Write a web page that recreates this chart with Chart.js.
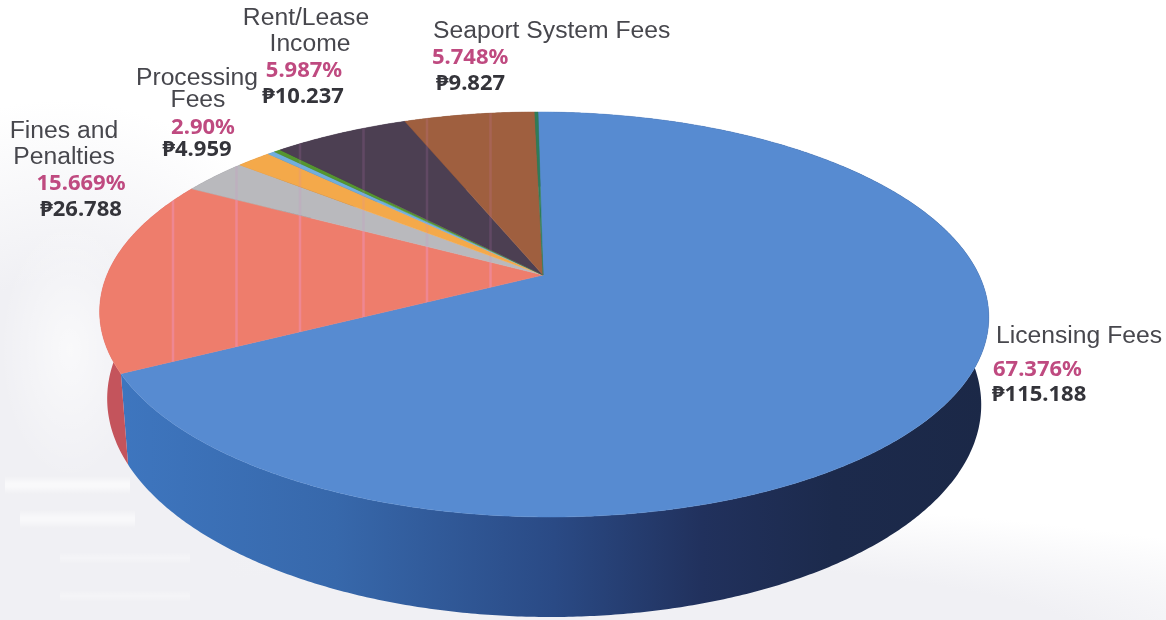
<!DOCTYPE html>
<html>
<head>
<meta charset="utf-8">
<title>Revenue sources</title>
<script src="https://cdn.jsdelivr.net/npm/chart.js@4"></script>
<style>
    html, body { margin: 0; padding: 0; }
    body {
        width: 1166px;
        height: 620px;
        overflow: hidden;
        background:
            linear-gradient(180deg, rgba(255,255,255,0), rgba(255,255,255,.6) 40%, rgba(255,255,255,.6) 60%, rgba(255,255,255,0)) 5px 476px / 125px 18px no-repeat,
            linear-gradient(180deg, rgba(255,255,255,0), rgba(255,255,255,.55) 40%, rgba(255,255,255,.55) 60%, rgba(255,255,255,0)) 20px 510px / 115px 18px no-repeat,
            linear-gradient(180deg, rgba(255,255,255,0), rgba(255,255,255,.3) 50%, rgba(255,255,255,0)) 60px 552px / 130px 12px no-repeat,
            linear-gradient(180deg, rgba(255,255,255,0), rgba(255,255,255,.3) 50%, rgba(255,255,255,0)) 60px 590px / 130px 12px no-repeat,
            radial-gradient(ellipse 70px 130px at 70px 350px, rgba(255,255,255,.6), rgba(255,255,255,0)),
            radial-gradient(ellipse 320px 400px at 60px 500px, #f0f0f4 55%, rgba(240,240,244,0)),
            radial-gradient(ellipse 900px 150px at 560px 650px, #f0f0f4 60%, rgba(240,240,244,0)),
            #fff;
    }
    #pie { display: block; position: absolute; left: 0; top: 0; }
</style>
</head>
<body>
<canvas id="pie" width="1166" height="620"></canvas>
<script>
const categories = ['Licensing Fees', 'Fines and Penalties', 'Processing Fees', 'Other A', 'Other B', 'Other C', 'Rent/Lease Income', 'Seaport System Fees', 'Other D'];
const amounts = [115.188, 26.788, 4.959, 2.65, 0.56, 0.51, 10.237, 9.827, 0.24];
const topColors = ['#578bd1', '#ee7d6c', '#b9b9bd', '#f4a94a', '#70aede', '#55962f', '#4c3f52', '#9f5f3f', '#2f7c58'];
const wallColors = ['#2a4a85', '#c4545c', '#85858a', '#b87a30', '#4f80a5', '#3a6a20', '#352b3a', '#70432c', '#20573e'];
const percentLabels = ['67.376%', '15.669%', '2.90%', '5.987%', '5.748%'];
const amountLabels = ['₱115.188', '₱26.788', '₱4.959', '₱10.237', '₱9.827'];

const hub = { x: 543, y: 275 };

// the disc is tilted away from the viewer, so the hub sits above the middle of the ellipse
function project(angle) {
    const u = Math.cos(angle), v = Math.sin(angle);
    const d = 1 - 0.195 * v;
    return { x: hub.x + (436 * u + 6 * v) / d, y: hub.y + 194.8 * v / d };
}

// bottom rim of the slab, a bit narrower than the top and deeper towards the front
function lower(p) {
    return { x: hub.x + 0.983 * (p.x - hub.x), y: p.y + 91 + 0.063 * (p.y - 374) };
}

function rim(arc) {
    const pts = [];
    const steps = Math.max(2, Math.ceil((arc.endAngle - arc.startAngle) / 0.008));
    for (let i = 0; i <= steps; i++) {
        pts.push(project(arc.startAngle + (arc.endAngle - arc.startAngle) * i / steps));
    }
    return pts;
}

const tiltedPie = {
    id: 'tiltedPie',
    beforeDatasetDraw(chart) {
        const ctx = chart.ctx;
        const arcs = chart.getDatasetMeta(0).data;

        // side walls first, the top face covers whatever sits behind it
        arcs.forEach((arc, i) => {
            const pts = rim(arc);
            ctx.beginPath();
            pts.forEach((p, k) => k ? ctx.lineTo(p.x, p.y) : ctx.moveTo(p.x, p.y));
            pts.slice().reverse().forEach(p => {
                const q = lower(p);
                ctx.lineTo(q.x, q.y);
            });
            ctx.closePath();
            if (i === 0) {
                const g = ctx.createLinearGradient(118, 0, 990, 0);
                g.addColorStop(0, '#3e76bf');
                g.addColorStop(0.25, '#3768ab');
                g.addColorStop(0.5, '#2a4a85');
                g.addColorStop(0.67, '#21315d');
                g.addColorStop(0.82, '#1c2a4c');
                g.addColorStop(1, '#1b2847');
                ctx.fillStyle = g;
            } else {
                ctx.fillStyle = wallColors[i];
            }
            ctx.fill();
        });

        arcs.forEach((arc, i) => {
            ctx.beginPath();
            ctx.moveTo(hub.x, hub.y);
            rim(arc).forEach(p => ctx.lineTo(p.x, p.y));
            ctx.closePath();
            ctx.fillStyle = topColors[i];
            ctx.fill();
            ctx.strokeStyle = topColors[i];
            ctx.lineWidth = 0.5;
            ctx.stroke();

            // faint print banding on everything but the big blue slice
            if (i > 0) {
                ctx.save();
                ctx.clip();
                ctx.strokeStyle = i === 1 ? 'rgba(238,150,205,.4)' : 'rgba(210,130,200,.16)';
                ctx.lineWidth = 2.5;
                for (let x = 173; x < 500; x += 63.5) {
                    ctx.beginPath();
                    ctx.moveTo(x, 100);
                    ctx.lineTo(x, 400);
                    ctx.stroke();
                }
                ctx.restore();
            }
        });
        return false;
    },
    afterDraw(chart) {
        const ctx = chart.ctx;
        const nameFont = '24.7px "Liberation Sans"';
        const figureFont = 'bold 22px "Noto Sans"';
        const put = (text, x, y, font, color) => {
            ctx.font = font;
            ctx.fillStyle = color;
            ctx.fillText(text, x, y);
        };
        const pink = '#bf4a80', dark = '#34343a', grey = '#47474d';

        ctx.save();
        ctx.textBaseline = 'middle';
        ctx.textAlign = 'center';
        put('Fines and', 64, 131, nameFont, grey);
        put('Penalties', 64, 157, nameFont, grey);
        put(percentLabels[1], 81, 184, figureFont, pink);
        put(amountLabels[1], 81, 210, figureFont, dark);

        put('Processing', 197, 78, nameFont, grey);
        put('Fees', 198, 100, nameFont, grey);
        put(percentLabels[2], 203, 128, figureFont, pink);
        put(amountLabels[2], 197, 150, figureFont, dark);

        put('Rent/Lease', 306, 18, nameFont, grey);
        put('Income', 310, 44, nameFont, grey);
        put(percentLabels[3], 304, 71, figureFont, pink);
        put(amountLabels[3], 303, 97, figureFont, dark);

        ctx.textAlign = 'left';
        put('Seaport System Fees', 433, 31, nameFont, grey);
        put(percentLabels[4], 432, 58, figureFont, pink);
        put(amountLabels[4], 436, 84, figureFont, dark);

        put('Licensing Fees', 996, 336, nameFont, grey);
        put(percentLabels[0], 993, 370, figureFont, pink);
        put(amountLabels[0], 992, 395, figureFont, dark);
        ctx.restore();
    }
};

new Chart(document.getElementById('pie'), {
    type: 'pie',
    data: {
        labels: categories,
        datasets: [{ data: amounts, backgroundColor: topColors, borderWidth: 0 }]
    },
    options: {
        responsive: false,
        animation: false,
        events: [],
        plugins: { legend: { display: false }, tooltip: { enabled: false } }
    },
    plugins: [tiltedPie]
});
</script>
</body>
</html>
